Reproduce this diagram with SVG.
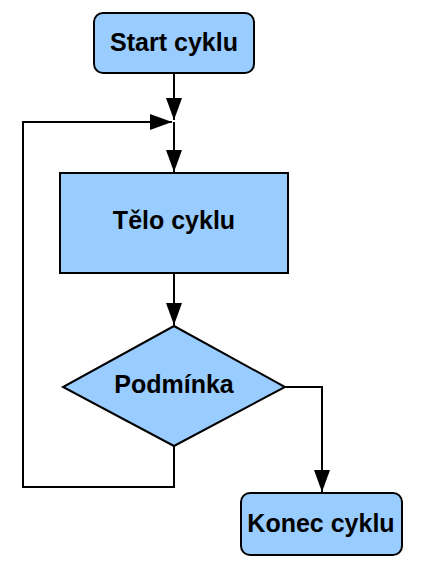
<svg xmlns="http://www.w3.org/2000/svg" width="421" height="565" viewBox="0 0 421 565">
<defs>
<style>
.node{fill:#99ccff;stroke:#000;stroke-width:2}
.lbl{font-family:"Liberation Sans",Arial,sans-serif;font-weight:bold;font-size:25px;fill:#000;text-anchor:middle}
.con{fill:none;stroke:#000;stroke-width:2}
</style>
<marker id="arr" markerUnits="userSpaceOnUse" markerWidth="22" markerHeight="18" viewBox="0 0 22 18" refX="22" refY="9" orient="auto">
<path d="M0,1 L22,9 L0,17 Z" fill="#000"/>
</marker>
</defs>
<rect width="421" height="565" fill="#fff"/>
<g id="connectors">
<path class="con" d="M174,73 V120" marker-end="url(#arr)"/>
<path class="con" d="M174,122 V172" marker-end="url(#arr)"/>
<path class="con" d="M174,273 V325" marker-end="url(#arr)"/>
<path class="con" d="M285,387 H322 V492" marker-end="url(#arr)"/>
<path class="con" d="M174,446 V487 H23 V122 H172" marker-end="url(#arr)"/>
</g>
<g id="start">
<rect class="node" x="94" y="13" width="160" height="60" rx="9"/>
<text class="lbl" x="174" y="51">Start cyklu</text>
</g>
<g id="telo">
<rect class="node" x="60" y="173" width="228" height="100"/>
<text class="lbl" x="174" y="229">Tělo cyklu</text>
</g>
<g id="podminka">
<polygon class="node" points="174,326 285,387 174,446 63,387"/>
<text class="lbl" x="174" y="393">Podmínka</text>
</g>
<g id="konec">
<rect class="node" x="241" y="493" width="161" height="62" rx="9"/>
<text class="lbl" x="321" y="532">Konec cyklu</text>
</g>
</svg>
